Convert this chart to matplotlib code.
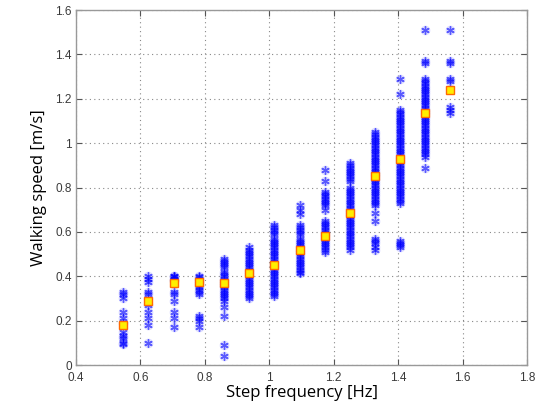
import numpy as np
import matplotlib
matplotlib.use('Agg')
import matplotlib.pyplot as plt

# step frequency groups [Hz]
freqs = [0.547, 0.625, 0.703, 0.781, 0.859, 0.938, 1.016, 1.094, 1.172, 1.250, 1.328, 1.406, 1.484, 1.5625]

# walking speed samples per group [m/s]
speeds = [
    [0.33, 0.32, 0.30, 0.24, 0.21, 0.19, 0.15, 0.13, 0.12, 0.10, 0.095],
    [0.40, 0.39, 0.375, 0.33, 0.32, 0.27, 0.24, 0.21, 0.18, 0.10],
    [0.40, 0.40, 0.395, 0.39, 0.385, 0.38, 0.33, 0.32, 0.29, 0.24, 0.21, 0.17],
    [0.40, 0.395, 0.39, 0.38, 0.37, 0.36, 0.35, 0.34, 0.33, 0.32, 0.22, 0.21, 0.20, 0.17],
    [0.48, 0.47, 0.46, 0.45, 0.44, 0.42, 0.41, 0.40, 0.39, 0.38, 0.37, 0.36, 0.35, 0.34,
     0.33, 0.32, 0.31, 0.30, 0.29, 0.26, 0.22, 0.09, 0.04],
    [0.53, 0.52, 0.51, 0.50, 0.49, 0.48, 0.47, 0.46, 0.45, 0.44, 0.43, 0.42, 0.41, 0.40,
     0.39, 0.38, 0.37, 0.36, 0.35, 0.34, 0.33, 0.32, 0.31, 0.30],
    [0.63, 0.62, 0.61, 0.60, 0.59, 0.57, 0.56, 0.55, 0.54, 0.53, 0.52, 0.51, 0.50, 0.49,
     0.48, 0.47, 0.46, 0.45, 0.44, 0.43, 0.42, 0.41, 0.40, 0.39, 0.38, 0.37, 0.36, 0.35,
     0.34, 0.33, 0.32, 0.31],
    [0.72, 0.70, 0.68, 0.63, 0.62, 0.61, 0.60, 0.59, 0.57, 0.56, 0.55, 0.54, 0.53, 0.52,
     0.51, 0.50, 0.49, 0.48, 0.47, 0.46, 0.45, 0.44, 0.43, 0.42, 0.415],
    [0.88, 0.83, 0.78, 0.77, 0.76, 0.75, 0.74, 0.73, 0.72, 0.70, 0.65, 0.64, 0.63, 0.62,
     0.61, 0.60, 0.59, 0.58, 0.57, 0.56, 0.55, 0.54, 0.53, 0.52, 0.51],
    [0.91, 0.90, 0.89, 0.88, 0.87, 0.86, 0.85, 0.84, 0.83, 0.80, 0.79, 0.78, 0.77, 0.76,
     0.75, 0.74, 0.73, 0.72, 0.71, 0.70, 0.69, 0.68, 0.67, 0.66, 0.65, 0.64, 0.63, 0.62,
     0.61, 0.60, 0.59, 0.58, 0.57, 0.56, 0.55, 0.54, 0.53, 0.52],
    [1.05, 1.04, 1.03, 1.02, 1.01, 1.00, 0.99, 0.98, 0.97, 0.96, 0.95, 0.94, 0.93, 0.92,
     0.91, 0.90, 0.89, 0.88, 0.87, 0.86, 0.85, 0.84, 0.83, 0.82, 0.81, 0.80, 0.79, 0.78,
     0.77, 0.76, 0.75, 0.74, 0.73, 0.72, 0.685, 0.65, 0.57, 0.56, 0.55, 0.53, 0.52],
    [1.29, 1.22, 1.15, 1.14, 1.13, 1.12, 1.11, 1.10, 1.09, 1.08, 1.07, 1.06, 1.05, 1.04,
     1.03, 1.02, 1.01, 1.00, 0.99, 0.98, 0.97, 0.96, 0.95, 0.94, 0.93, 0.92, 0.91, 0.90,
     0.89, 0.88, 0.87, 0.86, 0.85, 0.84, 0.83, 0.82, 0.81, 0.80, 0.79, 0.78, 0.77, 0.76,
     0.75, 0.74, 0.73, 0.56, 0.55, 0.54, 0.53],
    [1.51, 1.37, 1.36, 1.29, 1.28, 1.27, 1.26, 1.25, 1.24, 1.23, 1.22, 1.21, 1.20, 1.19,
     1.18, 1.17, 1.16, 1.15, 1.14, 1.13, 1.12, 1.11, 1.10, 1.09, 1.08, 1.07, 1.06, 1.05,
     1.04, 1.03, 1.02, 1.01, 1.00, 0.99, 0.98, 0.97, 0.96, 0.95, 0.94, 0.89],
    [1.51, 1.37, 1.36, 1.29, 1.28, 1.165, 1.15, 1.135],
]

# mean speed per group
means = [0.18, 0.29, 0.37, 0.375, 0.368, 0.413, 0.45, 0.52, 0.58, 0.686, 0.851, 0.928, 1.134, 1.239]

fig = plt.figure(figsize=(5.43, 4.04), dpi=100)
ax = fig.add_axes([0.140, 0.0965, 0.8305, 0.8785])

for f, s in zip(freqs, speeds):
    # soft halo + asterisk, like the blurred matlab export
    ax.plot([f] * len(s), s, linestyle='none', marker='o', markersize=7,
            markeredgewidth=0, color='#8080ff', alpha=0.25)
    ax.plot([f] * len(s), s, linestyle='none', marker=(6, 2, 0), markersize=6,
            markeredgewidth=1.0, color='#0000ff', alpha=0.6)

ax.plot(freqs, means, linestyle='none', marker='s', markersize=5.5,
        markerfacecolor='#ffee00', markeredgecolor='#ff6a00', markeredgewidth=1.0)

ax.set_xlim(0.4, 1.8)
ax.set_ylim(0, 1.6)
ax.set_xticks(np.arange(0.4, 1.81, 0.2))
ax.set_yticks(np.arange(0, 1.61, 0.2))
ax.set_xticklabels(['0.4', '0.6', '0.8', '1', '1.2', '1.4', '1.6', '1.8'])
ax.set_yticklabels(['0', '0.2', '0.4', '0.6', '0.8', '1', '1.2', '1.4', '1.6'])
ax.tick_params(direction='in', length=4, width=0.8, colors='#555555', labelsize=8.5,
               top=True, right=True)
ax.tick_params(axis='x', pad=5)
ax.tick_params(axis='y', pad=3)
for lab in ax.get_xticklabels() + ax.get_yticklabels():
    lab.set_family('Liberation Sans')
    lab.set_color('#3a3a3a')
for sp in ax.spines.values():
    sp.set_color('#999999')
    sp.set_linewidth(1.0)

ax.grid(True, linestyle=(0, (1, 3)), color='#888888', linewidth=0.8)
ax.set_axisbelow(True)

ax.set_xlabel('Step frequency [Hz]', fontsize=12, family='Open Sans', labelpad=1)
ax.set_ylabel('Walking speed [m/s]', fontsize=12, family='Open Sans', labelpad=6)

fig.savefig('out.png', dpi=100)
